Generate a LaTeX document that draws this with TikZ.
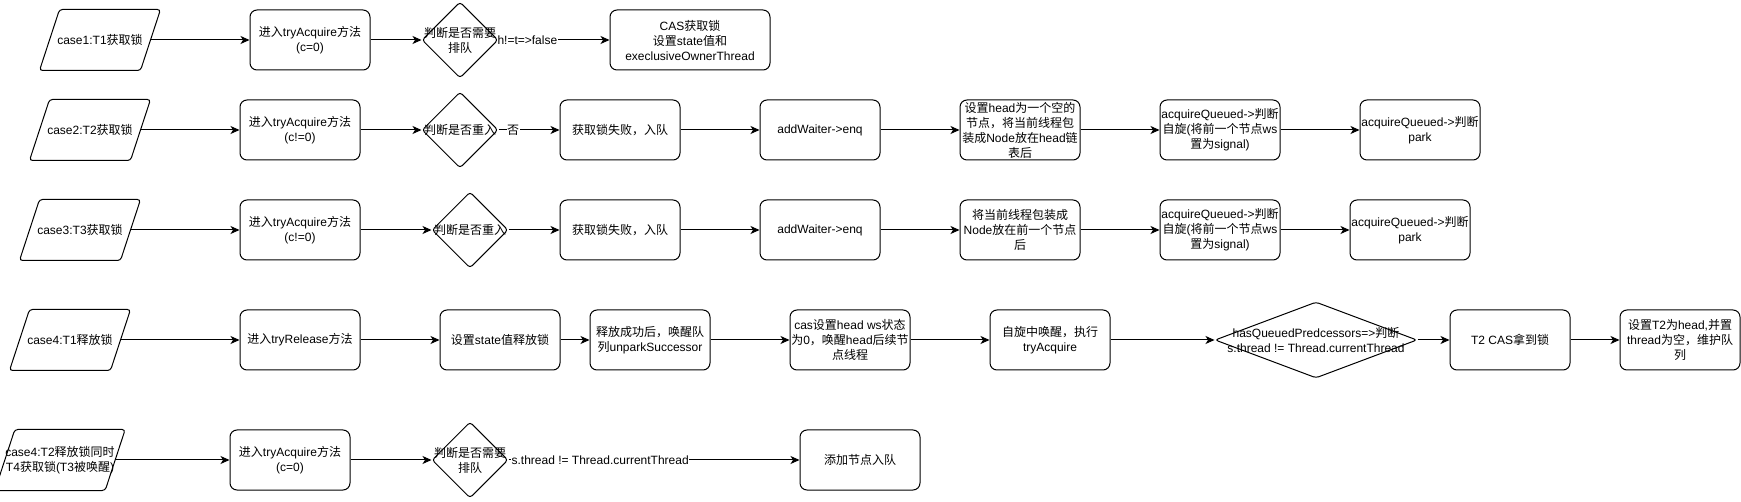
\documentclass[tikz,border=0pt]{standalone}
\usepackage{fontspec}
\setmainfont{Liberation Sans}
\newfontfamily\cjkfont{Noto Sans CJK SC}
\usetikzlibrary{shapes.geometric,arrows.meta}
% Chinese characters are set in the CJK font
\XeTeXinterchartokenstate=1
\newXeTeXintercharclass\cjkclass
\count255="3000
\loop\XeTeXcharclass\count255=\cjkclass
  \ifnum\count255<"303F \advance\count255 by 1 \repeat
\count255="4E00
\loop\XeTeXcharclass\count255=\cjkclass
  \ifnum\count255<"9FFF \advance\count255 by 1 \repeat
\count255="FF00
\loop\XeTeXcharclass\count255=\cjkclass
  \ifnum\count255<"FFEF \advance\count255 by 1 \repeat
\XeTeXinterchartoks 0 \cjkclass={\begingroup\cjkfont}
\XeTeXinterchartoks 4095 \cjkclass={\begingroup\cjkfont}
\XeTeXinterchartoks \cjkclass 0={\endgroup}
\XeTeXinterchartoks \cjkclass 4095={\endgroup}
\begin{document}
\begin{tikzpicture}[x=1pt,y=-1pt,line width=1pt,
    every node/.style={font=\fontsize{12}{15}\selectfont},
    proc/.style={draw,rounded corners=7pt,minimum width=120pt,minimum height=60pt,
      align=center,inner xsep=0pt,inner ysep=1pt},
    io/.style={minimum width=100pt,minimum height=60pt,align=center,inner sep=0pt},
    dec/.style={draw,diamond,rounded corners=3pt,minimum width=76pt,
      minimum height=76pt,inner sep=0pt},
    flow/.style={-{Stealth[length=9pt,width=8pt,inset=2.5pt]}},
    lbl/.style={fill=white,inner sep=0.5pt}]
  \useasboundingbox (0,0) rectangle (1741,502);

  % case1
  \node[io] (c1) at (100,40) {case1:T1获取锁};
  \node[proc] (a1) at (310,40) {进入tryAcquire方法\\(c=0)};
  \node[dec,label={[align=center]center:{判断是否需要\\排队}}] (d1) at (460,40) {};
  \node[proc,minimum width=160pt] (s1) at (690,40) {CAS获取锁\\设置state值和\\execlusiveOwnerThread};

  % case2
  \node[io] (c2) at (90,130) {case2:T2获取锁};
  \node[proc] (a2) at (300,130) {进入tryAcquire方法\\(c!=0)};
  \node[dec,label={[align=center]center:{判断是否重入}}] (d2) at (460,130) {};
  \node[proc] (f2) at (620,130) {获取锁失败，入队};
  \node[proc] (w2) at (820,130) {addWaiter->enq};
  \node[proc] (h2) at (1020,130) {设置head为一个空的\\节点，将当前线程包\\装成Node放在head链\\表后};
  \node[proc] (q2) at (1220,130) {acquireQueued->判断\\自旋(将前一个节点ws\\置为signal)};
  \node[proc] (p2) at (1420,130) {acquireQueued->判断\\park};

  % case3
  \node[io] (c3) at (80,230) {case3:T3获取锁};
  \node[proc] (a3) at (300,230) {进入tryAcquire方法\\(c!=0)};
  \node[dec,label={[align=center]center:{判断是否重入}}] (d3) at (470,230) {};
  \node[proc] (f3) at (620,230) {获取锁失败，入队};
  \node[proc] (w3) at (820,230) {addWaiter->enq};
  \node[proc] (h3) at (1020,230) {将当前线程包装成\\Node放在前一个节点\\后};
  \node[proc] (q3) at (1220,230) {acquireQueued->判断\\自旋(将前一个节点ws\\置为signal)};
  \node[proc] (p3) at (1410,230) {acquireQueued->判断\\park};

  % case4
  \node[io] (c4) at (70,340) {case4:T1释放锁};
  \node[proc] (r4) at (300,340) {进入tryRelease方法};
  \node[proc] (s4) at (500,340) {设置state值释放锁};
  \node[proc] (u4) at (650,340) {释放成功后，唤醒队\\列unparkSuccessor};
  \node[proc] (h4) at (850,340) {cas设置head ws状态\\为0，唤醒head后续节\\点线程};
  \node[proc] (x4) at (1050,340) {自旋中唤醒，执行\\tryAcquire};
  \node[dec,minimum width=202pt,
    label={[align=center]center:{hasQueuedPredcessors=>判断\\s.thread != Thread.currentThread}}] (d4) at (1316,340) {};
  \node[proc] (t4) at (1510,340) {T2 CAS拿到锁};
  \node[proc] (e4) at (1680,340) {设置T2为head,并置\\thread为空，维护队\\列};

  % case4, T2 and T4
  \node[io] (c5) at (60,460) {case4:T2释放锁同时\\T4获取锁(T3被唤醒)};
  \node[proc] (a5) at (290,460) {进入tryAcquire方法\\(c=0)};
  \node[dec,label={[align=center]center:{判断是否需要\\排队}}] (d5) at (470,460) {};
  \node[proc] (n5) at (860,460) {添加节点入队};

  \foreach \n in {c1,c2,c3,c4,c5}
    \draw[rounded corners=3pt] ([xshift=10pt]\n.north west) -- ([xshift=10pt]\n.north east)
      -- ([xshift=-10pt]\n.south east) -- ([xshift=-10pt]\n.south west) -- cycle;

  \foreach \u/\v in {c1/a1,a1/d1,c2/a2,a2/d2,f2/w2,w2/h2,h2/q2,q2/p2,
      c3/a3,a3/d3,d3/f3,f3/w3,w3/h3,h3/q3,q3/p3,
      c4/r4,r4/s4,s4/u4,u4/h4,h4/x4,x4/d4,d4/t4,t4/e4,c5/a5,a5/d5}
    \draw[flow] (\u) -- (\v);
  \draw[flow] (d1) -- node[lbl,pos=0.26] {h!=t=>false} (s1);
  \draw[flow] (d2) -- node[lbl,pos=0.24] {否} (f2);
  \draw[flow] (d5) -- node[lbl,pos=0.315] {s.thread != Thread.currentThread} (n5);
\end{tikzpicture}
\end{document}
